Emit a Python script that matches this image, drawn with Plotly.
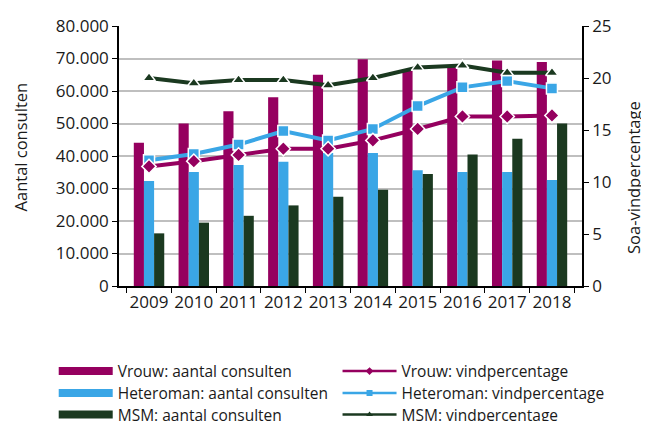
import plotly.graph_objects as go

years = ["2009", "2010", "2011", "2012", "2013", "2014", "2015", "2016", "2017", "2018"]

vrouw_consulten = [44100, 50000, 53800, 58100, 65000, 69800, 66500, 68000, 69400, 68900]
hetero_consulten = [32300, 35100, 37200, 38200, 40900, 40900, 35600, 35100, 35100, 32600]
msm_consulten = [16200, 19500, 21600, 24800, 27500, 29600, 34500, 40500, 45300, 50000]

vrouw_pct = [11.5, 12.0, 12.6, 13.2, 13.2, 14.0, 15.1, 16.3, 16.3, 16.4]
hetero_pct = [12.1, 12.7, 13.6, 14.9, 14.0, 15.1, 17.3, 19.1, 19.7, 19.0]
msm_pct = [20.0, 19.5, 19.8, 19.8, 19.3, 20.0, 21.0, 21.2, 20.5, 20.5]

C_VROUW = "#95005f"
C_HETERO = "#3aa6e6"
C_MSM = "#1b3920"
FONT = "Open Sans"

fig = go.Figure()

bar_names = ["Vrouw: aantal consulten", "Heteroman: aantal consulten", "MSM: aantal consulten"]
bar_vals = [vrouw_consulten, hetero_consulten, msm_consulten]
cols = [C_VROUW, C_HETERO, C_MSM]

for name, vals, c in zip(bar_names, bar_vals, cols):
    fig.add_trace(go.Bar(x=years, y=vals, name=name, marker=dict(color=c, line=dict(width=0)),
                         showlegend=False, yaxis="y"))

line_names = ["Vrouw: vindpercentage", "Heteroman: vindpercentage", "MSM: vindpercentage"]
line_vals = [vrouw_pct, hetero_pct, msm_pct]
symbols = ["diamond", "square", "triangle-up"]
# draw heteroman first so that vrouw markers sit on top
for idx in [1, 0, 2]:
    fig.add_trace(go.Scatter(x=years, y=line_vals[idx], name=line_names[idx], mode="lines+markers",
                             yaxis="y2", line=dict(color=cols[idx], width=4),
                             marker=dict(symbol=symbols[idx], size=11, color=cols[idx],
                                         line=dict(color="white", width=1.5)),
                             showlegend=False))

# legend entries: one legend per row/column for exact placement
row_y = [-0.329, -0.4136, -0.4963]
col_x = [-0.141, 0.472]
legend_layouts = {}
k = 1
for i, (name, c) in enumerate(zip(bar_names, cols)):
    key = "legend" if k == 1 else f"legend{k}"
    fig.add_trace(go.Scatter(x=[None], y=[None], name=name, mode="lines",
                             line=dict(color=c, width=8), legend=key))
    legend_layouts[key] = dict(x=col_x[0], y=row_y[i], xanchor="left", yanchor="middle",
                               font=dict(size=15.5), itemwidth=54, bgcolor="rgba(0,0,0,0)")
    k += 1
for i, (name, c, s) in enumerate(zip(line_names, cols, symbols)):
    key = f"legend{k}"
    fig.add_trace(go.Scatter(x=[None], y=[None], name=name, mode="lines+markers", yaxis="y2",
                             line=dict(color=c, width=2.5),
                             marker=dict(symbol=s, size=6, color=c), legend=key))
    legend_layouts[key] = dict(x=col_x[1], y=row_y[i], xanchor="left", yanchor="middle",
                               font=dict(size=15.5), itemwidth=54, bgcolor="rgba(0,0,0,0)")
    k += 1

fig.update_layout(
    width=649, height=421,
    margin=dict(l=111, r=75, t=18, b=143, autoexpand=False),
    paper_bgcolor="white", plot_bgcolor="white",
    separators=",.",
    barmode="group", bargap=0.32, bargroupgap=0,
    font=dict(family=FONT, size=17, color="#1a1a1a"),
    xaxis=dict(type="category", showline=True, linecolor="black", linewidth=1.5,
               ticks="outside", tickson="boundaries", ticklen=5, tickcolor="black",
               tickfont=dict(size=17), tickangle=0, showgrid=False, automargin=False),
    yaxis=dict(range=[0, 80000], dtick=10000, tickformat=",.0f",
               showline=True, linecolor="black", linewidth=1.5,
               ticks="outside", ticklen=5, tickcolor="black",
               showgrid=True, gridcolor="#bfbfbf", gridwidth=1.5, zeroline=False,
               tickfont=dict(size=17), automargin=False),
    yaxis2=dict(range=[0, 25], dtick=5, overlaying="y", side="right",
                showline=True, linecolor="black", linewidth=1.5,
                ticks="outside", ticklen=5, tickcolor="black", showgrid=False, zeroline=False,
                tickfont=dict(size=17), automargin=False),
    annotations=[
        dict(text="Aantal consulten", xref="paper", yref="paper", x=-0.2138, y=0.533,
             textangle=-90, showarrow=False, font=dict(size=16.5), xanchor="center", yanchor="middle"),
        dict(text="Soa-vindpercentage", xref="paper", yref="paper", x=1.111, y=0.417,
             textangle=-90, showarrow=False, font=dict(size=16.5), xanchor="center", yanchor="middle"),
    ],
    **legend_layouts,
)

fig.write_html("out.html")
